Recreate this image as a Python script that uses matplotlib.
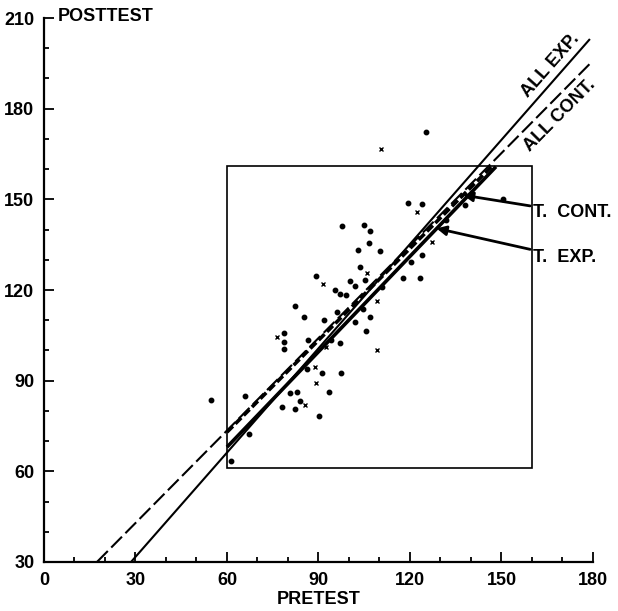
import numpy as np
import matplotlib
matplotlib.use('Agg')
from matplotlib import pyplot as plt
from matplotlib.patches import Rectangle
from matplotlib.ticker import MultipleLocator

plt.rcParams['font.family'] = ['Liberation Sans', 'DejaVu Sans']
plt.rcParams['font.weight'] = 'bold'
plt.rcParams['lines.scale_dashes'] = False

# scores marked with dots
dot_pretest = [54.8, 61.3, 67.2, 65.9, 78.0, 82.3, 80.7, 83.0, 83.9, 90.2,
               93.4, 97.4, 91.1, 86.2, 94.1, 97.0, 78.7, 78.7, 78.7, 82.3,
               85.2, 91.8, 102.0, 105.6, 106.9, 104.6, 89.2, 95.4, 97.0, 99.0,
               100.3, 102.0, 105.2, 110.8, 103.0, 103.6, 106.6, 106.9, 104.9, 97.7,
               110.2, 117.7, 120.3, 123.3, 123.9, 119.3, 123.9, 131.8, 138.0, 150.5,
               125.2, 86.6, 96.1]
dot_posttest = [83.5, 63.3, 72.3, 84.8, 81.2, 80.5, 85.8, 86.2, 83.2, 78.2,
                86.2, 92.5, 92.5, 93.8, 103.4, 102.4, 102.7, 100.4, 105.7, 114.6,
                111.0, 110.0, 109.3, 106.4, 111.0, 113.6, 124.6, 119.9, 118.6, 118.3,
                122.9, 121.3, 123.2, 120.9, 133.2, 127.5, 135.5, 139.5, 141.5, 141.1,
                132.8, 123.9, 129.2, 123.9, 131.5, 148.7, 148.4, 143.1, 148.1, 150.1,
                172.3, 103.4, 112.6]

# scores marked with crosses
cross_pretest = [110.5, 122.3, 127.2, 105.9, 91.5, 109.2, 109.2, 76.4, 92.5, 88.9,
                 89.2, 85.6]
cross_posttest = [166.6, 145.8, 135.8, 125.6, 121.9, 116.3, 100.1, 104.4, 101.1, 94.4,
                  89.1, 81.9]

# regression lines: y = slope * x + intercept
line_names = ['ALL EXP.', 'ALL CONT.', 'T. EXP.', 'T. CONT.']
line_slopes = [1.15, 1.02, 1.052, 1.013]
line_intercepts = [-2.8, 12.3, 4.9, 12.2]
line_x_from = [28.5, 17.4, 60, 60]
line_x_to = [179, 179, 148.2, 146.9]

fig = plt.figure(figsize=(6.18, 6.11), dpi=100)
ax = fig.add_axes([0.0712, 0.0802, 0.8883, 0.8903])

styles = [
    dict(color='black', lw=1.5, linestyle='-'),
    dict(color='black', lw=1.5, dashes=(11, 3.5)),
    dict(color='black', lw=2.6, linestyle='-'),
    dict(color='black', lw=2.6, dashes=(6, 2.5)),
]
for i in range(len(line_names)):
    xs = np.array([line_x_from[i], line_x_to[i]])
    ys = line_slopes[i] * xs + line_intercepts[i]
    ax.plot(xs, ys, solid_capstyle='butt', dash_capstyle='butt', **styles[i])

ax.plot(dot_pretest, dot_posttest, 'o', color='black', markersize=3.2, linestyle='none')
ax.plot(cross_pretest, cross_posttest, 'x', color='black', markersize=3.5,
        markeredgewidth=1.0, linestyle='none')

ax.add_patch(Rectangle((60, 61), 100, 100, fill=False, edgecolor='black', lw=1.2))

# labels along the full-sample lines
ax.text(166.2, 194.4, 'ALL EXP.', fontsize=13, ha='center', va='center',
        rotation=np.degrees(np.arctan(line_slopes[0])), rotation_mode='anchor',
        transform_rotates_text=True)
ax.text(169.2, 177.9, 'ALL CONT.', fontsize=13, ha='center', va='center',
        rotation=np.degrees(np.arctan(line_slopes[1])), rotation_mode='anchor',
        transform_rotates_text=True)

arrow = dict(arrowstyle='-|>', color='black', lw=2.0, mutation_scale=14,
             shrinkA=0, shrinkB=0)
ax.annotate('T.  CONT.', xy=(137.4, 151.4), xytext=(160.3, 145.6), fontsize=13,
            ha='left', va='center', arrowprops=arrow, annotation_clip=False)
ax.annotate('T.  EXP.', xy=(128.7, 140.4), xytext=(160.3, 130.9), fontsize=13,
            ha='left', va='center', arrowprops=arrow, annotation_clip=False)

ax.set_xlim(0, 180)
ax.set_ylim(30, 210)
ax.xaxis.set_major_locator(MultipleLocator(30))
ax.xaxis.set_minor_locator(MultipleLocator(10))
ax.yaxis.set_major_locator(MultipleLocator(30))
ax.yaxis.set_minor_locator(MultipleLocator(10))
ax.tick_params(which='both', direction='in', width=1.3, labelsize=13, pad=7)
ax.tick_params(which='major', length=7)
ax.tick_params(which='minor', length=3.5)
for side in ['top', 'right']:
    ax.spines[side].set_visible(False)
for side in ['left', 'bottom']:
    ax.spines[side].set_linewidth(1.6)

ax.text(4.5, 210.5, 'POSTTEST', fontsize=13, ha='left', va='center')
ax.set_xlabel('PRETEST', fontsize=13, fontweight='bold', labelpad=2)

fig.savefig('out.png', dpi=100)
